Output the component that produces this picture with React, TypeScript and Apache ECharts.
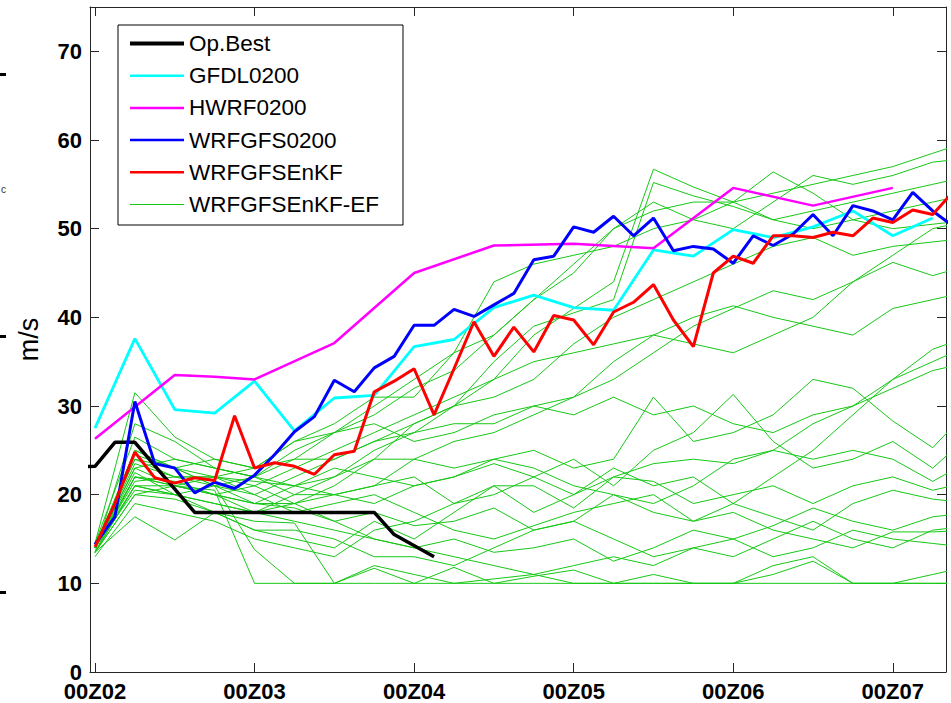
import React, { useEffect, useRef } from "react";
import * as echarts from "echarts";

const FONT = "'Liberation Sans', Arial, Helvetica, sans-serif";

// axis ticks
const xTickHours = [0, 24, 48, 72, 96, 120];
const xTickLabels = ["00Z02", "00Z03", "00Z04", "00Z05", "00Z06", "00Z07"];
const yTickValues = [0, 10, 20, 30, 40, 50, 60, 70];

// Op.Best (hours after 00Z02, m/s)
const opBestHours = [-6, 0, 3, 6, 15, 42, 45, 51];
const opBestValues = [23.0, 23.2, 25.9, 25.9, 18.0, 18.0, 15.5, 13.0];

// GFDL0200
const gfdlHours = [0, 6, 12, 18, 24, 30, 36, 42, 48, 54, 60, 66, 72, 78, 84, 90, 96, 102, 108, 114, 120, 126];
const gfdlValues = [27.5, 37.6, 29.6, 29.2, 32.8, 27.2, 30.9, 31.2, 36.7, 37.5, 41.1, 42.5, 41.1, 40.8, 47.6, 46.9, 49.9, 49.0, 50.2, 52.0, 49.2, 51.2];

// HWRF0200
const hwrfHours = [0, 12, 18, 24, 36, 48, 60, 72, 84, 96, 108, 120];
const hwrfValues = [26.3, 33.5, 33.3, 33.0, 37.1, 45.0, 48.1, 48.3, 47.8, 54.6, 52.6, 54.6];

// WRFGFS0200 (3-hourly)
const wrfgfsHours = [0, 3, 6, 9, 12, 15, 18, 21, 24, 27, 30, 33, 36, 39, 42, 45, 48, 51, 54, 57, 60, 63, 66, 69, 72, 75, 78, 81, 84, 87, 90, 93, 96, 99, 102, 105, 108, 111, 114, 117, 120, 123, 126, 129];
const wrfgfsValues = [14.4, 17.5, 30.5, 23.5, 23.0, 20.2, 21.4, 20.7, 22.2, 24.5, 27.1, 28.8, 32.9, 31.6, 34.3, 35.6, 39.1, 39.1, 40.9, 40.1, 41.4, 42.7, 46.5, 46.9, 50.2, 49.6, 51.4, 49.2, 51.2, 47.5, 48.0, 47.7, 46.1, 49.2, 48.1, 49.4, 51.6, 49.2, 52.6, 52.0, 51.0, 54.1, 52.0, 50.3];

// WRFGFSEnKF (3-hourly)
const enkfHours = [0, 3, 6, 9, 12, 15, 18, 21, 24, 27, 30, 33, 36, 39, 42, 45, 48, 51, 54, 57, 60, 63, 66, 69, 72, 75, 78, 81, 84, 87, 90, 93, 96, 99, 102, 105, 108, 111, 114, 117, 120, 123, 126, 129];
const enkfValues = [14.1, 19.0, 24.8, 21.9, 21.3, 21.9, 21.6, 28.9, 23.0, 23.6, 23.2, 22.3, 24.5, 24.9, 31.6, 32.8, 34.2, 29.0, 34.2, 39.5, 35.6, 38.9, 36.1, 40.2, 39.7, 36.9, 40.6, 41.7, 43.7, 39.7, 36.7, 45.0, 46.9, 46.1, 49.2, 49.2, 49.0, 49.6, 49.2, 51.2, 50.7, 52.1, 51.6, 54.1];

// WRFGFSEnKF-EF ensemble members (6-hourly)
const efHours = [0, 6, 12, 18, 24, 30, 36, 42, 48, 54, 60, 66, 72, 78, 84, 90, 96, 102, 108, 114, 120, 126, 132];
const efMembers: number[][] = [
  [14, 23, 24, 23, 22, 25, 27, 30, 33, 36, 38, 42, 46, 50, 52, 53, 53, 54, 55, 56, 57, 58.5, 60],
  [14, 25, 23, 22, 23, 26, 28, 31, 31, 36, 44, 46, 47, 48, 50, 51, 50, 53, 56, 55, 56, 57.5, 58],
  [13.5, 22, 21, 20, 21, 23, 25, 27, 29, 31, 33, 38, 41, 44, 56.7, 54.7, 53, 51, 52, 53, 54, 55, 56],
  [14, 24, 22, 22, 20, 22, 24, 26, 28, 30, 35, 39, 40.5, 42, 55.2, 53.7, 52.5, 51, 50, 51, 52, 53, 54],
  [14.5, 26.5, 24, 23, 22, 24, 27, 29, 32, 34, 38, 42, 45, 50, 53, 51, 53, 56.4, 54, 51, 50, 50.5, 51],
  [13.5, 21, 20, 19, 18, 19, 21, 24, 28, 30, 31, 33, 37, 40, 42, 44, 46, 48, 49, 47, 48, 48.5, 49],
  [14, 23, 21, 20, 19, 19, 20, 21, 24, 26, 27, 29, 31, 33, 36, 39, 41, 43, 42, 44, 46.2, 44.7, 46],
  [14, 22.5, 20, 19, 18, 20, 22, 25, 27, 28, 28, 30, 31, 35, 38, 40, 41.3, 40, 39, 38, 41, 42, 43],
  [13.5, 20, 19.5, 18, 16, 15, 14, 17, 15, 18, 21, 18, 20, 23, 21, 22, 19, 22, 25, 29, 33, 35, 37],
  [14, 21, 21, 22, 21.5, 21, 22, 24, 24, 23, 24, 25, 23, 24, 31, 26, 27, 29, 33, 32, 28.3, 25.3, 30],
  [13, 19, 18, 17, 15, 14, 13, 16, 17, 19, 20, 22, 24, 21, 25, 27, 31.3, 26, 23, 24, 26, 23, 27],
  [14.5, 24, 23, 21, 19, 21, 20, 19, 21, 22, 23.5, 22, 20, 22, 23.5, 24, 23.5, 25, 24, 25, 24, 21.5, 24],
  [14, 21.5, 22, 21, 22, 20, 20, 21, 22, 19, 21, 21, 18.5, 22, 21.5, 19, 20, 21, 19, 21, 22, 20.5, 21.5],
  [13.5, 20, 21, 20, 19, 18.5, 17, 18, 16.5, 17, 18.5, 16, 17, 20, 18, 17, 19, 17.5, 16, 19, 20.5, 19.5, 19],
  [14, 22, 21.5, 20, 18, 17, 16, 15, 14, 15, 13.5, 14, 15, 12.5, 14, 16, 15, 16.5, 18.5, 17, 16, 17.5, 18],
  [13.5, 17.5, 14.9, 18, 16, 16, 15, 13, 13, 12, 14, 16, 17, 15, 13, 14, 13, 15, 17, 15, 14, 16, 16.5],
  [14, 23.5, 22, 22, 21, 19, 17, 15, 14, 13, 12, 11, 12, 13, 12, 14, 15, 13, 14, 16, 15, 14.5, 14],
  [13.5, 21, 20, 18, 17, 16.8, 10, 11.7, 10, 11.8, 10, 10.8, 11.5, 10, 11, 10, 10, 11, 12.5, 10, 10, 11, 12],
  [14, 22, 21, 20.5, 10, 10, 10, 10, 10, 10, 10, 10, 10, 10, 10, 10, 10, 10, 10, 10, 10, 10, 10],
  [14, 24.5, 23, 21, 13.8, 10, 10, 12, 11, 10, 10.5, 11, 10, 10, 10, 10, 10, 12, 13, 10, 10, 10, 10],
  [14, 25, 23, 24, 23, 26, 27, 28, 26, 27, 29, 30, 29, 31, 29, 30, 28, 27, 29, 30, 32, 34, 35],
  [14.5, 31.5, 26.5, 24, 23, 24, 24, 26, 27, 30, 33, 35, 36, 37, 38, 37, 36, 38, 40, 44, 47, 50, 51],
  [13.5, 28, 26, 23, 22, 21, 23, 22, 21, 22, 24, 23, 21, 20, 19, 21, 24, 25, 28, 30, 33, 36.4, 38],
  [14, 20.5, 20, 21, 20, 18, 19, 20, 18, 16, 15, 16.5, 18, 19, 20, 17, 18, 16, 15, 14, 15.8, 15.8, 16],
];

const legendNames = ["Op.Best", "GFDL0200", "HWRF0200", "WRFGFS0200", "WRFGFSEnKF", "WRFGFSEnKF-EF"];
const legendLineWidths = [4, 2.5, 2.5, 2.5, 2.5, 1];

const pairs = (xs: number[], ys: number[]) => xs.map((x, i) => [x, ys[i]]);

export default function App() {
  const ref = useRef<HTMLDivElement>(null);
  useEffect(() => {
    if (!ref.current) return;
    const chart = echarts.init(ref.current, null, { renderer: "svg" });
    const axisColor = "#262626";
    const mkLine = (name: string, data: number[][], color: string, width: number, z: number) => ({
      type: "line",
      name,
      data,
      symbol: "none",
      showSymbol: false,
      silent: true,
      z,
      lineStyle: { color, width },
      itemStyle: { color },
    });
    const greenSeries = efMembers.map((m) => mkLine("WRFGFSEnKF-EF", pairs(efHours, m), "#16c816", 1, 2));
    const commonX = {
      type: "value",
      min: -0.75,
      max: 128,
      splitLine: { show: false },
      axisLine: { show: true, onZero: false, lineStyle: { color: axisColor, width: 1 } },
    };
    const commonY = {
      type: "value",
      min: 0,
      max: 75,
      splitLine: { show: false },
      axisLine: { show: true, onZero: false, lineStyle: { color: axisColor, width: 1 } },
    };
    chart.setOption({
      animation: false,
      backgroundColor: "#ffffff",
      grid: { left: 90, right: 5, top: 7, bottom: 31, containLabel: false },
      legend: {
        orient: "vertical",
        left: 118,
        top: 25,
        padding: [7, 24, 9, 10],
        itemGap: 9.2,
        itemWidth: 54,
        itemHeight: 14,
        backgroundColor: "#ffffff",
        borderColor: "#000000",
        borderWidth: 1,
        borderRadius: 0,
        selectedMode: false,
        itemStyle: { opacity: 0 },
        textStyle: { fontFamily: FONT, fontSize: 22.5, color: "#000", lineHeight: 22 },
        data: legendNames.map((n, i) => ({ name: n, lineStyle: { width: legendLineWidths[i] } })),
      },
      xAxis: [
        {
          ...commonX,
          position: "bottom",
          axisTick: { show: true, inside: true, length: 9, customValues: xTickHours, lineStyle: { color: axisColor } },
          axisLabel: {
            show: true,
            customValues: xTickHours,
            margin: 10,
            color: "#000",
            fontFamily: FONT,
            fontSize: 22,
            lineHeight: 18,
            fontWeight: "bold",
            formatter: (v: number) => {
              const i = xTickHours.indexOf(v);
              return i >= 0 ? xTickLabels[i] : "";
            },
          },
        },
        {
          ...commonX,
          position: "top",
          axisTick: { show: true, inside: true, length: 9, customValues: xTickHours, lineStyle: { color: axisColor } },
          axisLabel: { show: false },
        },
      ],
      yAxis: [
        {
          ...commonY,
          position: "left",
          name: "m/s",
          nameLocation: "middle",
          nameRotate: 90,
          nameGap: 48,
          nameTextStyle: { fontFamily: FONT, fontSize: 27, color: "#000" },
          axisTick: { show: true, inside: true, length: 9, customValues: yTickValues, lineStyle: { color: axisColor } },
          axisLabel: {
            show: true,
            customValues: yTickValues,
            margin: 8,
            color: "#000",
            fontFamily: FONT,
            fontSize: 22,
            lineHeight: 16,
            fontWeight: "bold",
          },
        },
        {
          ...commonY,
          position: "right",
          axisTick: { show: true, inside: true, length: 9, customValues: yTickValues, lineStyle: { color: axisColor } },
          axisLabel: { show: false },
        },
      ],
      graphic: [
        { type: "rect", shape: { x: 0, y: 73, width: 6, height: 3 }, style: { fill: "#000" } },
        { type: "rect", shape: { x: 0, y: 335, width: 6, height: 3 }, style: { fill: "#000" } },
        { type: "rect", shape: { x: 0, y: 591, width: 6, height: 3 }, style: { fill: "#000" } },
        { type: "text", x: 1, y: 184, style: { text: "c", font: "10px 'Liberation Sans'", fill: "#333" } },
      ],
      series: [
        ...greenSeries,
        mkLine("Op.Best", pairs(opBestHours, opBestValues), "#000000", 3.5, 4),
        mkLine("GFDL0200", pairs(gfdlHours, gfdlValues), "#00ffff", 2.8, 4),
        mkLine("HWRF0200", pairs(hwrfHours, hwrfValues), "#ff00ff", 2.5, 4),
        mkLine("WRFGFS0200", pairs(wrfgfsHours, wrfgfsValues), "#0000ff", 3, 4),
        mkLine("WRFGFSEnKF", pairs(enkfHours, enkfValues), "#ff0000", 3, 4),
      ],
    });
    return () => chart.dispose();
  }, []);
  return (
    <div
      ref={ref}
      style={{ position: "fixed", left: 0, top: 0, width: 951, height: 703, background: "#fff" }}
    />
  );
}
